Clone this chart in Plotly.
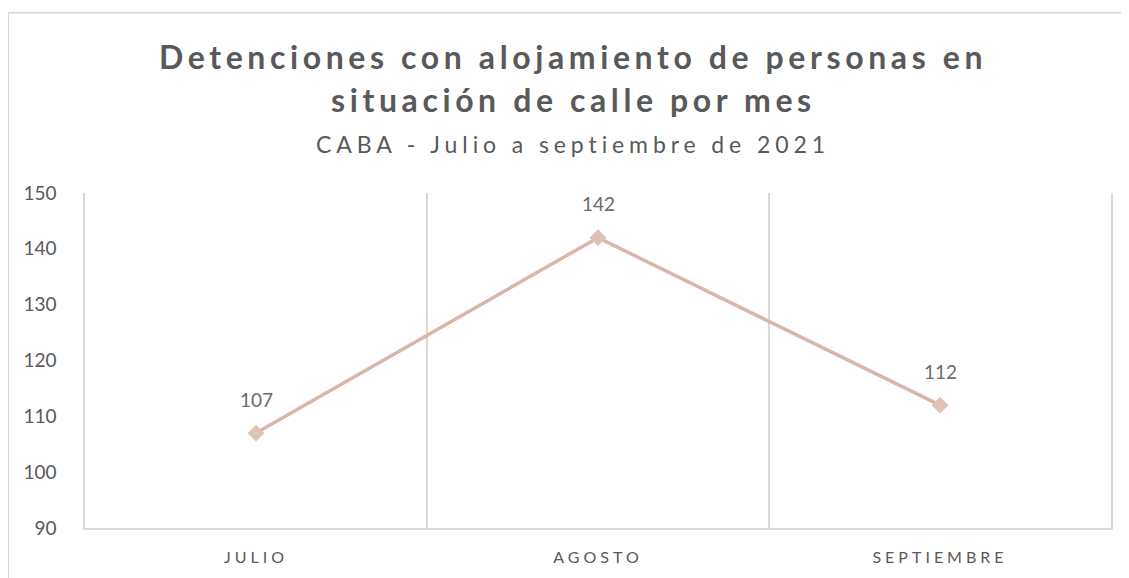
import plotly.graph_objects as go

months = ["JULIO", "AGOSTO", "SEPTIEMBRE"]
detenciones = [107, 142, 112]
y_ticks = [90, 100, 110, 120, 130, 140, 150]

title_l1 = "Detenciones con alojamiento de personas en"
title_l2 = "situación de calle por mes"
subtitle = "CABA - Julio a septiembre de 2021"

FONT = "Lato, 'Open Sans', sans-serif"
GREY = "#595959"
LINE = "#dbb4ab"
GRID = "#d9d9d9"

fig = go.Figure()
fig.add_trace(go.Scatter(
    x=months, y=detenciones, mode="lines+markers",
    line=dict(color=LINE, width=3.5),
    marker=dict(symbol="diamond", size=13, color="#e0c1b6"),
    hoverinfo="x+y", showlegend=False,
))

for m, v in zip(months, detenciones):
    fig.add_annotation(x=m, y=v, text=str(v), showarrow=False, yshift=34,
                       font=dict(family=FONT, size=19, color="#6b6b6b"))

TX = 0.476
fig.add_annotation(xref="paper", yref="paper", x=TX, y=1.408, xanchor="center", yanchor="middle",
                   text=f"<b><span style='letter-spacing:4.6px'>{title_l1}</span></b>", showarrow=False,
                   font=dict(family=FONT, size=32, color=GREY))
fig.add_annotation(xref="paper", yref="paper", x=TX, y=1.279, xanchor="center", yanchor="middle",
                   text=f"<b><span style='letter-spacing:4.6px'>{title_l2}</span></b>", showarrow=False,
                   font=dict(family=FONT, size=32, color=GREY))
fig.add_annotation(xref="paper", yref="paper", x=TX, y=1.145, xanchor="center", yanchor="middle",
                   text=f"<span style='letter-spacing:4.9px'>{subtitle}</span>", showarrow=False,
                   font=dict(family=FONT, size=23, color=GREY))

# chart-area frame (top and left edges visible)
fig.add_shape(type="line", xref="paper", yref="paper", x0=-0.075, x1=1.05, y0=1.538, y1=1.538,
              line=dict(color=GRID, width=2))
fig.add_shape(type="line", xref="paper", yref="paper", x0=-0.075, x1=-0.075, y0=1.538, y1=-0.2,
              line=dict(color=GRID, width=2))

fig.update_layout(
    width=1121, height=570,
    margin=dict(l=77, r=18, t=185, b=47),
    paper_bgcolor="white", plot_bgcolor="white",
    font=dict(family=FONT, color=GREY),
    xaxis=dict(
        type="category", range=[-0.5, 2.5],
        tickvals=months,
        ticktext=[f"<span style='letter-spacing:4px'>{m}</span>" for m in months],
        tickson="boundaries", ticks="", showgrid=True, gridcolor=GRID, gridwidth=1.5,
        showline=True, linecolor=GRID, linewidth=2,
        ticklabelstandoff=14,
        tickfont=dict(family=FONT, size=16, color=GREY),
        fixedrange=True,
    ),
    yaxis=dict(
        range=[90, 150], tickvals=y_ticks, showgrid=False, zeroline=False,
        showline=True, mirror=True, linecolor=GRID, linewidth=1.5,
        ticks="", ticklabelstandoff=23,
        tickfont=dict(family=FONT, size=19, color=GREY),
        fixedrange=True,
    ),
)

fig.write_html("out.html")
